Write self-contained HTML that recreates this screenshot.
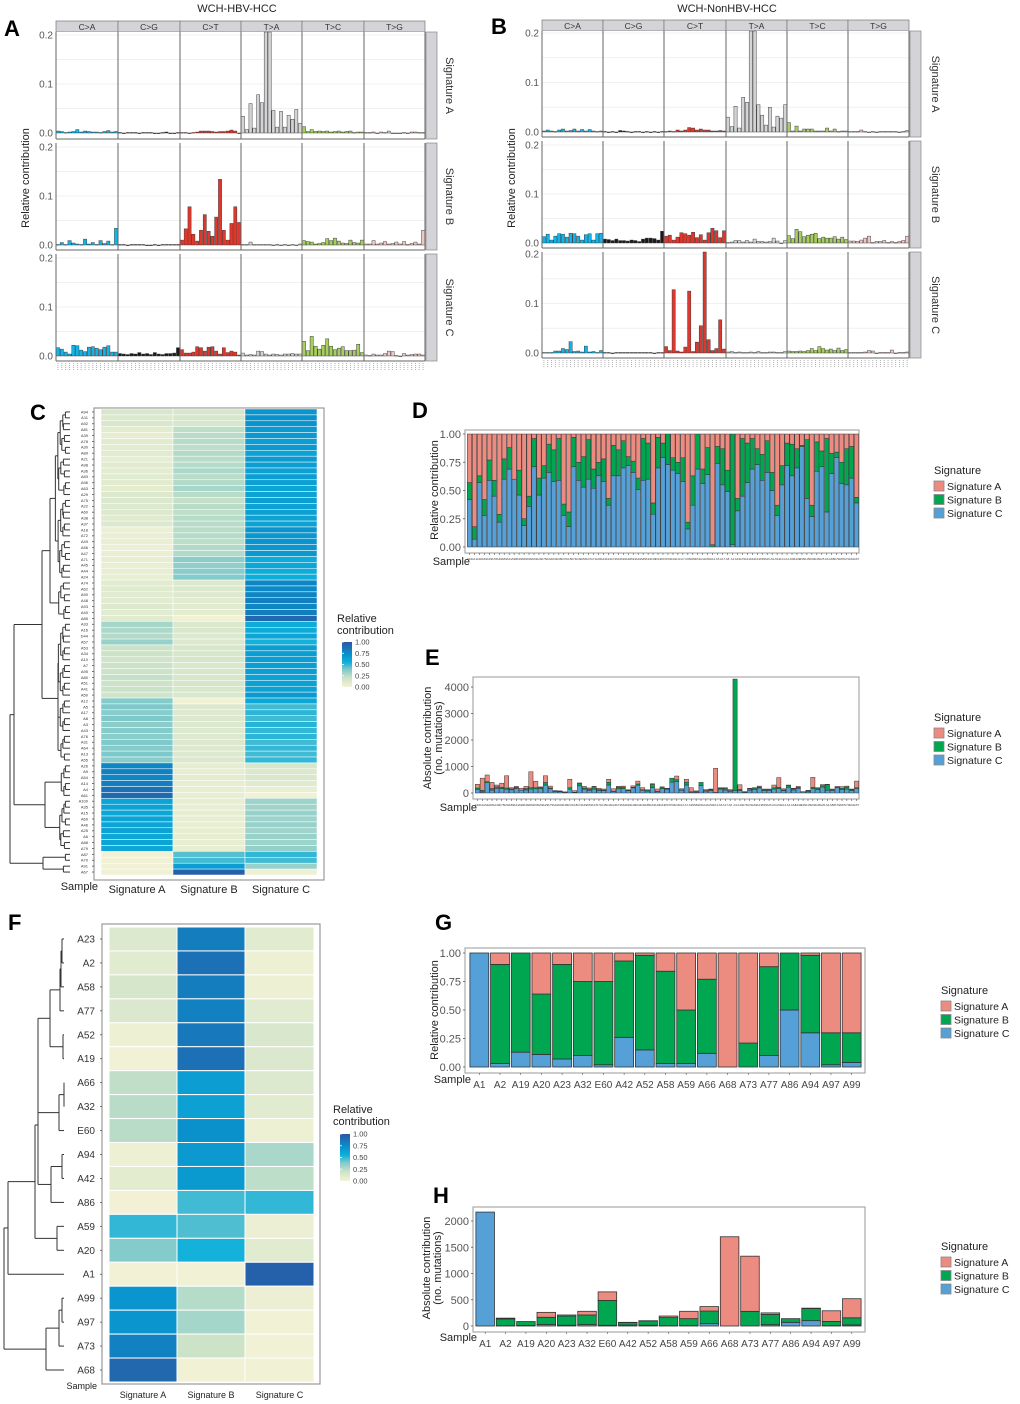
<!DOCTYPE html>
<html><head><meta charset="utf-8"><style>
html,body{margin:0;padding:0;background:#fff;}
svg{display:block;font-family:"Liberation Sans",sans-serif;}
</style></head><body>
<svg id="fig" width="1020" height="1404" viewBox="0 0 1020 1404" xmlns="http://www.w3.org/2000/svg"></svg>
<script>
// ---------- DATA ----------
const mutTypes = ["C>A","C>G","C>T","T>A","T>C","T>G"];
const hbvSigA = [
 [.004,.003,.001,.002,.003,.007,.002,.004,.003,.002,.002,.001,.003,.005,.002,.003],
 [.001,0,.001,.001,.001,0,.001,.001,.001,0,0,.001,.002,0,0,.001],
 [.001,.001,0,.001,.002,.004,.004,.004,.003,.002,.003,.003,.004,.006,.004,0],
 [.034,.007,.06,.01,.078,.062,.21,.21,.046,.012,.044,.012,.036,.028,.048,.02],
 [.013,.003,.007,.003,.004,.003,.004,.002,.003,.004,.002,.003,.004,.001,.002,.002],
 [.001,.001,.002,0,.002,.001,.004,0,0,0,.001,0,.002,.002,.001,.001]];
const hbvSigB = [
 [.001,.005,.001,.009,.004,.002,.001,.012,.002,.005,.001,.009,.003,.008,.001,.034],
 [.001,.001,0,.001,.001,.001,.001,0,0,.001,0,.001,.001,.001,.001,.001],
 [.01,.033,.078,.022,.008,.03,.062,.028,.018,.057,.134,.03,.01,.044,.078,.046],
 [.001,.001,.006,.001,.001,.001,.001,.001,0,.001,0,.001,0,.001,0,.002],
 [.009,.007,.006,.002,.003,.005,.013,.009,.014,.008,.004,.003,.01,.005,.004,.01],
 [.002,.002,.009,.002,.004,.007,.002,.003,.006,.002,.007,.001,.003,.006,.002,.03]];
const hbvSigC = [
 [.017,.014,.008,.004,.022,.021,.012,.009,.018,.019,.016,.013,.018,.021,.008,.008],
 [.005,.004,.003,.005,.004,.007,.004,.005,.003,.007,.004,.003,.005,.005,.006,.017],
 [.013,.006,.006,.008,.019,.017,.01,.018,.019,.01,.004,.017,.007,.01,.008,.002],
 [.006,.002,.003,.002,.01,.009,.004,.002,.004,.003,.002,.004,.004,.005,.004,.004],
 [.03,.011,.04,.02,.014,.022,.035,.02,.013,.016,.019,.011,.011,.012,.024,.007],
 [.002,.001,.004,.002,.002,.005,.01,.009,.001,0,.005,.002,.003,.004,.004,.002]];
const nonSigA = [
 [.002,.004,.002,.001,.004,.006,.002,.003,.006,.002,.005,.002,.005,.002,.001,.002],
 [.001,0,.001,0,.003,.002,.001,0,.001,.001,0,.001,0,.001,0,.001],
 [.001,.002,.001,.004,.002,.004,.009,.008,.004,.006,.004,.004,.002,.002,.003,.002],
 [.03,.011,.052,.008,.07,.06,.21,.21,.055,.034,.014,.05,.01,.032,.028,.055],
 [.019,.002,.012,.002,.006,.006,.006,.002,.002,.002,.008,.002,.006,.001,.002,.002],
 [.001,.001,.001,.004,.001,0,.001,0,.001,.001,.001,.001,.001,0,.001,.003]];
const nonSigB = [
 [.013,.018,.006,.014,.019,.018,.012,.02,.019,.014,.006,.017,.019,.006,.019,.02],
 [.008,.007,.005,.008,.005,.005,.004,.006,.005,.003,.008,.01,.01,.009,.006,.024],
 [.014,.016,.006,.012,.021,.019,.016,.022,.011,.017,.006,.021,.03,.025,.011,.025],
 [.001,.002,.005,.005,.002,.005,.002,.008,.003,.003,.002,.003,.01,.004,0,.005],
 [.015,.009,.028,.023,.013,.016,.018,.02,.009,.012,.01,.01,.013,.008,.012,.007],
 [.004,.004,.003,.006,.01,.014,.001,.003,.003,.005,.001,.003,.001,.003,.005,.014]];
const nonSigC = [
 [.001,.001,.001,.004,.004,.009,.007,.023,.003,.004,.002,.014,.002,.003,.001,.005],
 [.001,.001,0,.001,.001,.001,.001,.001,.001,.001,.001,.001,.001,0,.001,.001],
 [.013,.005,.128,.004,.002,.012,.125,.003,.022,.055,.21,.027,.005,.009,.067,.008],
 [.002,.003,.001,.002,.001,.001,.002,.001,.003,.001,.001,.002,.002,.001,.001,.003],
 [.004,.003,.003,.004,.003,.005,.009,.005,.013,.009,.006,.008,.005,.01,.005,.007],
 [.001,.001,.001,.001,.002,.005,.004,0,.001,.001,.001,.006,0,.001,.001,.002]];

// Panel C heatmap (79 samples)
const hmNames = ["A94","A11","A92","A81","A39","A78","A30","A89","A21","A98","A36","A83","A96","A63","A29","A75","A22","A60","A38","A37","A18","A72","A49","A56","A47","A71","A45","A44","A24","A74","A62","A90","A48","A93","A40","A85","A33","A16","D44","A57","A53","A34","A10","A7","A95","A80","A51","A41","A50","A12","A5","A17","A8","A3","A43","A76","A31","A64","A13","A55","A26","A9","A54","A14","A4","A61","A100","A35","A15","A69","A46","A25","A6","A88","A79","A87","A70","A91","A67"];
const hmA = [.15,.12,.14, .08,.07,.09,.08,.1,.07,.09,.08,.1,.09,.08,.12,.13, .12,.12,.11,.12, .04,.05,.05,.04,.05, .06,.05,.06,.06, .1,.11,.1,.09,.12,.1,.1, .3,.28,.27,.33, .2,.2,.19,.21,.2,.22,.2,.21,.19, .38,.4,.37,.39,.36,.38,.37,.39,.38,.4,.37, .78,.8,.78,.82,.88,.92, .62,.63,.6,.62,.61,.63,.6,.62,.6, .02,.02,.02,.02];
const hmB = [.15,.15,.15, .24,.25,.26,.24,.27,.25,.26,.28,.25,.27,.3,.25,.22, .25,.24,.26,.25, .25,.26,.24,.27,.27, .36,.35,.37,.38, .12,.13,.12,.1,.1,.08,.02, .13,.14,.12,.13, .15,.15,.16,.14,.15,.15,.16,.15,.14, .02,.12,.12,.13,.12,.12,.12,.13,.12,.12,.13, .07,.07,.08,.07,.06,.06, .06,.06,.07,.06,.06,.06,.07,.06,.06, .45,.48,.65,.95];
const hmC = [.7,.73,.71, .68,.68,.65,.68,.63,.68,.65,.64,.65,.64,.62,.63,.65, .63,.64,.63,.63, .71,.69,.71,.69,.68, .58,.6,.57,.56, .78,.76,.78,.81,.78,.82,.92, .57,.58,.61,.54, .65,.65,.65,.65,.65,.63,.64,.64,.67, .6,.48,.51,.48,.52,.5,.51,.48,.5,.48,.5, .15,.13,.14,.11,.06,.02, .32,.31,.33,.32,.33,.31,.33,.32,.34, .5,.48,.33,.03];

// Panel D (relative) and E (absolute), 79 samples
const dSigC  = [.42,.07,.57,.28,.59,.45,.22,.60,.69,.60,.46,.19,.36,.71,.46,.61,.66,.58,.59,.28,.18,.71,.59,.53,.60,.52,.63,.58,.37,.63,.63,.70,.72,.66,.51,.59,.60,.29,.70,.79,.73,.68,.65,.58,.16,.37,.69,.56,.64,0,.74,.55,.49,.02,.32,.45,.57,.69,.73,.59,.66,.50,.28,.55,.72,.63,.70,.89,.43,.27,.67,.71,.31,.65,.79,.56,.55,.61,.39];
const dSigBC = [.57,.18,.63,.42,.77,.59,.29,.78,.88,.60,.68,.25,.45,.96,.61,.72,.91,.86,.96,.38,.31,.97,.75,.80,.95,.69,.75,.78,.43,.90,.86,.94,.80,.76,.61,.96,.92,.39,.97,.92,1.0,.79,.75,.79,.22,.63,1.0,.69,.88,.02,.89,.87,.68,1.0,.43,.96,.92,.96,.87,.82,.94,.66,.37,.72,.92,.91,.87,.90,.95,.37,.93,.85,.96,.83,.84,.75,.87,.89,.44];
const eTotal = [330,560,680,400,300,370,650,200,250,180, 250,800,440,230,650,260,90,80,40,520, 90,380,250,190,250,180,150,520,160,250, 260,120,270,450,200,120,350,150,230,180, 560,640,160,520,200,80,400,130,150,930, 200,200,130,4300,310,50,180,200,260,150, 150,300,580,160,300,180,250,50,100,590, 200,320,330,150,250,240,260,150,450];
const dTicks = [0,0.25,0.5,0.75,1];
const dTickLabels = ["0.00","0.25","0.50","0.75","1.00"];
const eTicks = [0,1000,2000,3000,4000];

// Panel F heatmap (19 samples)
const fNames = ["A23","A2","A58","A77","A52","A19","A66","A32","E60","A94","A42","A86","A59","A20","A1","A99","A97","A73","A68"];
const fA = [.12,.1,.16,.13,.03,.02,.23,.25,.25,.03,.08,.01,.5,.38,.01,.7,.7,.8,.92];
const fB = [.82,.88,.82,.8,.84,.88,.65,.64,.72,.68,.67,.48,.46,.54,.02,.26,.3,.2,.02];
const fC = [.1,.03,.03,.1,.14,.13,.12,.1,.03,.29,.24,.5,.04,.1,.95,.04,.02,.02,.02];

// Panels G & H (19 samples)
const gNames = ["A1","A2","A19","A20","A23","A32","E60","A42","A52","A58","A59","A66","A68","A73","A77","A86","A94","A97","A99"];
const gSigC  = [1.0,.03,.13,.11,.07,.10,.02,.26,.15,.03,.03,.12,0,0,.10,.50,.30,.02,.04];
const gSigBC = [1.0,.90,1.0,.64,.90,.75,.75,.93,.98,.84,.50,.77,0,.21,.88,1.0,.98,.30,.30];
const hTotal = [2170,150,85,260,210,280,650,70,100,190,280,370,1700,1330,250,140,340,290,520];
const hTicks = [0,500,1000,1500,2000];

// ---------- HELPERS ----------
const NS = "http://www.w3.org/2000/svg";
const svg = document.getElementById("fig");
function add(tag, attrs, name, parent) {
  const e = document.createElementNS(NS, tag);
  for (const k in attrs) e.setAttribute(k, attrs[k]);
  
  
  (parent || svg).appendChild(e);
  return e;
}
function txt(x, y, s, size, name, extra) {
  const a = Object.assign({x: x, y: y, "font-size": size, fill: "#222"}, extra || {});
  const t = add("text", a, name);
  t.textContent = s;
  return t;
}
const COL_A = "#EC8B80", COL_B = "#00A650", COL_C = "#56A0D8";
const mutCols = ["#12B5EA", "#1a1a1a", "#E0372C", "#D4D4D6", "#A7CE60", "#EFC8C6"];

function heatColor(v) {
  const st = [[0,[244,242,214]],[0.2,[205,227,200]],[0.4,[124,200,203]],[0.55,[13,176,219]],[0.75,[10,140,201]],[0.9,[31,108,178]],[1,[44,86,164]]];
  v = Math.max(0, Math.min(1, v));
  for (let i = 1; i < st.length; i++) {
    if (v <= st[i][0]) {
      const t = (v - st[i-1][0]) / (st[i][0] - st[i-1][0]);
      const c = st[i-1][1].map((a, j) => Math.round(a + (st[i][1][j] - a) * t));
      return "rgb(" + c.join(",") + ")";
    }
  }
  return "rgb(44,86,164)";
}

// ---------- PROFILE PANELS (A, B) ----------
function profile(P) {
  txt(P.titleX, P.titleY, P.title, 11, "panel-title", {"text-anchor": "middle"});
  txt(P.letterX, P.letterY, P.letter, 22, "panel-letter", {"font-weight": "bold", fill: "#000"});
  // strips
  for (let c = 0; c < 6; c++) {
    add("rect", {x: P.cols[c], y: P.stripTop, width: P.cols[c+1]-P.cols[c], height: 11, fill: "#d4d4d8", stroke: "#777", "stroke-width": 0.7}, "strip-" + mutTypes[c]);
    txt((P.cols[c]+P.cols[c+1])/2, P.stripTop + 9, mutTypes[c], 8.5, "strip-label", {"text-anchor": "middle", fill: "#333"});
  }
  const sigNames = ["Signature A", "Signature B", "Signature C"];
  P.rows.forEach((R, r) => {
    const sc = (R.zero - R.y2) / 0.2;
    const y = v => R.zero - v * sc;
    for (let c = 0; c < 6; c++) {
      const x0 = P.cols[c], x1 = P.cols[c+1];
      add("rect", {x: x0, y: R.top, width: x1-x0, height: R.bot-R.top, fill: "#fff"}, "facet-bg");
      [0.05,0.1,0.15,0.2].forEach(g => add("line", {x1: x0, x2: x1, y1: y(g), y2: y(g), stroke: "#ececec", "stroke-width": 0.8}, "gridline"));
      const bw = (x1 - x0) / 16;
      P.data[r][c].forEach((v, i) => {
        const top = Math.max(R.top, y(v));
        add("rect", {x: x0 + i*bw + 0.3, y: top, width: bw - 0.6, height: Math.max(0.6, R.zero - top), fill: mutCols[c], stroke: "#333", "stroke-width": 0.45}, "bar-" + mutTypes[c]);
      });
    }
    for (let c = 0; c < 7; c++) add("line", {x1: P.cols[c], x2: P.cols[c], y1: R.top, y2: R.bot, stroke: "#666", "stroke-width": 1}, "facet-border");
    add("line", {x1: P.cols[0], x2: P.cols[6], y1: R.bot, y2: R.bot, stroke: "#666", "stroke-width": 1}, "facet-border");
    [0, 0.1, 0.2].forEach((t, k) => {
      txt(P.cols[0] - 3, y(t) + 3.5, ["0.0","0.1","0.2"][k], 10, "y-tick-label", {"text-anchor": "end", fill: "#555"});
    });
    add("rect", {x: P.stripX, y: R.top, width: P.stripW, height: R.bot - R.top, fill: "#d4d4d8", stroke: "#888", "stroke-width": 0.7}, "row-strip");
    const cy = (R.top + R.bot) / 2;
    txt(P.sigX, cy, sigNames[r], 11, "row-strip-label", {"text-anchor": "middle", transform: "rotate(90 " + P.sigX + " " + cy + ")", fill: "#333"});
  });
  // tiny x ticks
  const lastBot = P.rows[2].bot;
  for (let c = 0; c < 6; c++) {
    const bw = (P.cols[c+1] - P.cols[c]) / 16;
    for (let i = 0; i < 16; i++) {
      add("line", {x1: P.cols[c] + (i+0.5)*bw, x2: P.cols[c] + (i+0.5)*bw, y1: lastBot + 2, y2: lastBot + 9, stroke: "#aaa", "stroke-width": 0.9, "stroke-dasharray": "1 1"}, "x-tick-context");
    }
  }
  const ym = 178;
  txt(P.ylabX, ym, "Relative contribution", 11, "y-axis-title", {"text-anchor": "middle", transform: "rotate(-90 " + P.ylabX + " " + ym + ")"});
}

profile({title: "WCH-HBV-HCC", titleX: 237, titleY: 12, letter: "A", letterX: 4, letterY: 36,
  cols: [56,118,180,241,302,364,425], stripTop: 21, stripX: 426, stripW: 11, sigX: 446, ylabX: 29,
  rows: [{top:32,bot:139,zero:133,y2:35},{top:143,bot:250,zero:245,y2:147},{top:254,bot:361,zero:356,y2:258}],
  data: [hbvSigA, hbvSigB, hbvSigC]});
profile({title: "WCH-NonHBV-HCC", titleX: 727, titleY: 12, letter: "B", letterX: 491, letterY: 34,
  cols: [542,603,664,726,787,848,909], stripTop: 20, stripX: 910, stripW: 11, sigX: 932, ylabX: 515,
  rows: [{top:31,bot:137,zero:132,y2:33},{top:141,bot:248,zero:243,y2:145},{top:252,bot:358,zero:353,y2:254}],
  data: [nonSigA, nonSigB, nonSigC]});

// ---------- DENDROGRAM ----------
function dendro(node, yOf, leafX, name) {
  if (typeof node === "number") return {y: yOf(node), x: leafX};
  const l = dendro(node[0], yOf, leafX, name), r = dendro(node[1], yOf, leafX, name);
  const x = node[2];
  add("line", {x1: x, x2: x, y1: l.y, y2: r.y, stroke: "#333", "stroke-width": 1}, name);
  add("line", {x1: x, x2: l.x, y1: l.y, y2: l.y, stroke: "#333", "stroke-width": 1}, name);
  add("line", {x1: x, x2: r.x, y1: r.y, y2: r.y, stroke: "#333", "stroke-width": 1}, name);
  return {y: (l.y + r.y) / 2, x: x};
}
function autoTree(lo, hi, leafX) {
  if (lo === hi) return lo;
  const mid = Math.floor((lo + hi) / 2);
  const n = hi - lo + 1;
  return [autoTree(lo, mid, leafX), autoTree(mid + 1, hi, leafX), leafX - 2 - 2.6 * Math.log2(n) - ((lo * 7) % 3)];
}

// ---------- HEATMAP ----------
function heatmap(P) {
  add("rect", {x: P.fx, y: P.fy, width: P.fw, height: P.fh, fill: "#fff", stroke: "#999", "stroke-width": 1.2}, "heatmap-frame");
  const n = P.A.length, rh = (P.y1 - P.y0) / n;
  const vals = [P.A, P.B, P.C];
  for (let c = 0; c < 3; c++) {
    for (let i = 0; i < n; i++) {
      add("rect", {x: P.cx[c], y: P.y0 + i*rh, width: P.cx[c+1] - P.cx[c], height: rh, fill: heatColor(vals[c][i]), stroke: "#fff", "stroke-width": P.gap}, "heatmap-cell");
    }
  }
  for (let i = 0; i < n; i++) {
    txt(P.labX, P.y0 + (i+0.5)*rh + P.labSize*0.35, P.names[i], P.labSize, "row-label", {"text-anchor": "end", fill: "#333"});
    add("line", {x1: P.fx - 2, x2: P.fx, y1: P.y0 + (i+0.5)*rh, y2: P.y0 + (i+0.5)*rh, stroke: "#555", "stroke-width": 0.8}, "y-tick");
  }
  ["Signature A","Signature B","Signature C"].forEach((s, c) => {
    txt((P.cx[c] + P.cx[c+1]) / 2, P.colLabY, s, P.colSize, "column-label", {"text-anchor": "middle"});
  });
  txt(P.sampleX, P.sampleY, "Sample", P.colSize, "sample-axis-title", {"text-anchor": "end"});
  // legend
  txt(P.legX, P.legY, "Relative", 11, "legend-title");
  txt(P.legX, P.legY + 12, "contribution", 11, "legend-title");
  const gid = "g" + P.legX;
  const defs = add("defs", {}, "defs");
  const lg = add("linearGradient", {id: gid, x1: 0, y1: 1, x2: 0, y2: 0}, "legend-gradient", defs);
  [0,0.2,0.4,0.55,0.75,0.9,1].forEach(o => add("stop", {offset: o, "stop-color": heatColor(o)}, "gradient-stop", lg));
  add("rect", {x: P.barX, y: P.barY0, width: 10, height: P.barY1 - P.barY0, fill: "url(#" + gid + ")"}, "legend-colorbar");
  ["0.00","0.25","0.50","0.75","1.00"].forEach((s, k) => {
    const yy = P.barY1 - k * (P.barY1 - P.barY0) / 4;
    txt(P.barX + 13, yy + 2.5, s, 7.5, "legend-tick-label", {fill: "#444"});
    add("line", {x1: P.barX, x2: P.barX + 2, y1: yy, y2: yy, stroke: "#fff", "stroke-width": 0.8}, "legend-tick");
  });
}

// Panel C
txt(30, 420, "C", 22, "panel-letter", {"font-weight": "bold", fill: "#000"});
heatmap({fx: 94, fy: 408, fw: 230, fh: 472, y0: 409, y1: 875, cx: [101,173,245,317], A: hmA, B: hmB, C: hmC, names: hmNames,
  gap: 0.5, labX: 88, labSize: 4, colLabY: 893, colSize: 11, sampleX: 98, sampleY: 890,
  legX: 337, legY: 622, barX: 342, barY0: 642, barY1: 687});
(function() {
  const y0 = 409, rh = (875 - 409) / 79;
  const yOf = i => y0 + (i + 0.5) * rh;
  const t1 = autoTree(0, 28, 70), t2 = autoTree(29, 35, 70), t3 = autoTree(36, 48, 70), t4 = autoTree(49, 59, 70);
  const t5 = autoTree(60, 65, 70), t6 = autoTree(66, 74, 70), t7 = autoTree(75, 78, 70);
  const tree = [[[[t1, t2, 50], [t3, t4, 58], 42], [t5, t6, 45], 14], t7, 10];
  tree[1] = [t7[0], t7[1], 43];
  dendro(tree, yOf, 70, "dendrogram-branch");
})();

// Panel F
txt(8, 930, "F", 22, "panel-letter", {"font-weight": "bold", fill: "#000"});
heatmap({fx: 102, fy: 924, fw: 218, fh: 460, y0: 927, y1: 1382, cx: [109,177,245,314], A: fA, B: fB, C: fC, names: fNames,
  gap: 1, labX: 95, labSize: 10, colLabY: 1398, colSize: 9, sampleX: 97, sampleY: 1389,
  legX: 333, legY: 1113, barX: 340, barY0: 1134, barY1: 1181});
(function() {
  const y0 = 927, rh = (1382 - 927) / 19;
  const yOf = i => y0 + (i + 0.5) * rh;
  const n1 = [0, 1, 62], n2 = [n1, 2, 61], n3 = [n2, 3, 60], n4 = [4, 5, 63], n5 = [n3, n4, 50];
  const n6 = [6, 7, 64], n7 = [n6, 8, 59], n8 = [n5, n7, 38], n9 = [9, 10, 62], n10 = [n9, 11, 51];
  const n11 = [n8, n10, 38], n12 = [12, 13, 57], n13 = [n11, n12, 35], n14 = [n13, 14, 8];
  const n15 = [15, 16, 62], n16 = [n15, 17, 59], n17 = [n16, 18, 46];
  dendro([n14, n17, 4], yOf, 64, "dendrogram-branch");
})();

// ---------- STACKED BAR PANELS ----------
function legend(x, y) {
  txt(x, y, "Signature", 11, "legend-title");
  [["Signature A", COL_A], ["Signature B", COL_B], ["Signature C", COL_C]].forEach((e, k) => {
    add("rect", {x: x, y: y + 7 + k*13.5, width: 10, height: 10, fill: e[1], stroke: "#888", "stroke-width": 0.8}, "legend-key");
    txt(x + 13, y + 16 + k*13.5, e[0], 10.5, "legend-entry");
  });
}
function stacked(P) {
  txt(P.letterX, P.letterY, P.letter, 22, "panel-letter", {"font-weight": "bold", fill: "#000"});
  add("rect", {x: P.fx, y: P.fy, width: P.fw, height: P.fh, fill: "#fff", stroke: "#aaa", "stroke-width": 1.2}, "plot-frame");
  const y = v => P.zero - v * P.scale;
  P.ticks.forEach((t, k) => {
    txt(P.fx - 4, y(t) + 4, P.tickLabels[k], 11, "y-tick-label", {"text-anchor": "end", fill: "#555"});
    add("line", {x1: P.fx - 2, x2: P.fx, y1: y(t), y2: y(t), stroke: "#555", "stroke-width": 0.8}, "y-tick");
  });
  const n = P.c.length, step = (P.bx1 - P.bx0) / n;
  for (let i = 0; i < n; i++) {
    const tot = P.total ? P.total[i] : 1;
    const segs = [[0, P.c[i], COL_C, "sig-c"], [P.c[i], P.bc[i], COL_B, "sig-b"], [P.bc[i], 1, COL_A, "sig-a"]];
    const bx = P.bx0 + i*step + P.pad;
    segs.forEach(s => {
      const h = (s[1] - s[0]) * tot * P.scale;
      if (h <= 0) return;
      add("rect", {x: bx, y: y(s[1]*tot), width: step - 2*P.pad, height: h, fill: s[2], stroke: "#333", "stroke-width": P.sw}, "bar-" + s[3]);
    });
    const cx = P.bx0 + (i + 0.5) * step;
    add("line", {x1: cx, x2: cx, y1: P.fy + P.fh, y2: P.fy + P.fh + 2, stroke: "#555", "stroke-width": 0.6}, "x-tick");
    txt(cx, P.fy + P.fh + P.labOff, P.names[i], P.labSize, "x-tick-label", {"text-anchor": "middle", fill: "#444"});
  }
  txt(P.sampleX, P.sampleY, "Sample", 11, "x-axis-title", {"text-anchor": "end"});
  P.ytitle.forEach((s, k) => {
    const xx = P.ytX + k * 11;
    txt(xx, P.ytY, s, 11, "y-axis-title", {"text-anchor": "middle", transform: "rotate(-90 " + xx + " " + P.ytY + ")"});
  });
  legend(P.legX, P.legY);
}
stacked({letter: "D", letterX: 412, letterY: 418, fx: 465, fy: 430, fw: 394, fh: 123, zero: 547, scale: 113,
  ticks: dTicks, tickLabels: dTickLabels, c: dSigC, bc: dSigBC, bx0: 467, bx1: 859, pad: 0.3, sw: 0.5,
  names: hmNames, labSize: 3, labOff: 7, sampleX: 470, sampleY: 565, ytitle: ["Relative contribution"], ytX: 438, ytY: 490,
  legX: 934, legY: 474});
stacked({letter: "E", letterX: 425, letterY: 665, fx: 473, fy: 677, fw: 386, fh: 122, zero: 793, scale: 106/4000,
  ticks: eTicks, tickLabels: eTicks.map(String), c: dSigC, bc: dSigBC, total: eTotal, bx0: 475, bx1: 859, pad: 0.3, sw: 0.5,
  names: hmNames, labSize: 3, labOff: 7, sampleX: 477, sampleY: 811, ytitle: ["Absolute contribution", "(no. mutations)"], ytX: 431, ytY: 738,
  legX: 934, legY: 721});
stacked({letter: "G", letterX: 435, letterY: 930, fx: 465, fy: 948, fw: 400, fh: 125, zero: 1067, scale: 114,
  ticks: dTicks, tickLabels: dTickLabels, c: gSigC, bc: gSigBC, bx0: 469, bx1: 862, pad: 0.9, sw: 0.8,
  names: gNames, labSize: 10, labOff: 15, sampleX: 471, sampleY: 1083, ytitle: ["Relative contribution"], ytX: 438, ytY: 1010,
  legX: 941, legY: 994});
stacked({letter: "H", letterX: 433, letterY: 1203, fx: 473, fy: 1207, fw: 392, fh: 125, zero: 1326, scale: 105/2000,
  ticks: hTicks, tickLabels: hTicks.map(String), c: gSigC, bc: gSigBC, total: hTotal, bx0: 475, bx1: 862, pad: 0.9, sw: 0.8,
  names: gNames, labSize: 10, labOff: 15, sampleX: 477, sampleY: 1341, ytitle: ["Absolute contribution", "(no. mutations)"], ytX: 430, ytY: 1268,
  legX: 941, legY: 1250});
</script>
</body></html>
